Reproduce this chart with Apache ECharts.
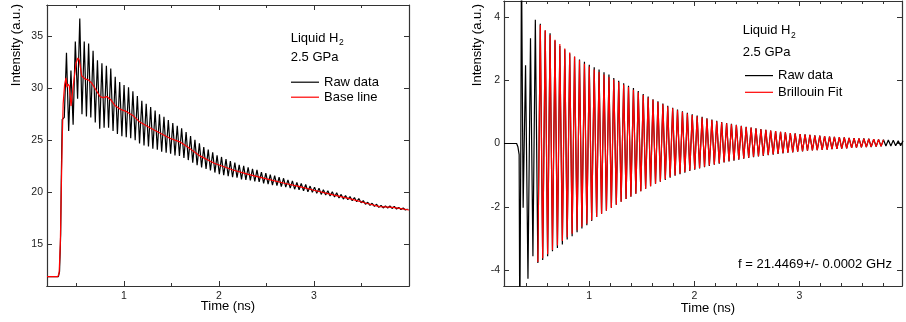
<!DOCTYPE html>
<html><head><meta charset="utf-8">
<script src="https://cdn.jsdelivr.net/npm/echarts@6/dist/echarts.min.js"></script>
<style>html,body{margin:0;padding:0;background:#fff}#c{width:906px;height:322px}</style>
</head><body><div id="c"></div>
<script>
// ---------- DATA ----------
// times (ns) of successive extrema of the Brillouin oscillation
const tExt = [0.372,0.395,0.418,0.442,0.465,0.488,0.512,0.535,0.558,0.582,
0.605,0.628,0.651,0.675,0.698,0.721,0.745,0.768,0.791,0.815,
0.838,0.861,0.885,0.908,0.931,0.955,0.978,1.001,1.024,1.048,
1.071,1.094,1.118,1.141,1.164,1.188,1.211,1.234,1.258,1.281,
1.304,1.328,1.351,1.374,1.397,1.421,1.444,1.467,1.491,1.514,
1.537,1.561,1.584,1.607,1.631,1.654,1.677,1.701,1.724,1.747,
1.770,1.794,1.817,1.840,1.864,1.887,1.910,1.934,1.957,1.980,
2.004,2.027,2.050,2.074,2.097,2.120,2.143,2.167,2.190,2.213,
2.237,2.260,2.283,2.307,2.330,2.353,2.377,2.400,2.423,2.447,
2.470,2.493,2.517,2.540,2.563,2.586,2.610,2.633,2.656,2.680,
2.703,2.726,2.750,2.773,2.796,2.820,2.843,2.866,2.890,2.913,
2.936,2.959,2.983,3.006,3.029,3.053,3.076,3.099,3.123,3.146,
3.169,3.193,3.216,3.239,3.263,3.286,3.309,3.332,3.356,3.379,
3.402,3.426,3.449,3.472,3.496,3.519,3.542,3.566,3.589,3.612,
3.636,3.659,3.682,3.706,3.729,3.752,3.776,3.799,3.822,3.845,
3.869,3.892,3.915,3.939,3.962,3.985];

// samples before the oscillation starts (flat signal and onset)
const leadT      = [0.19, 0.31, 0.322, 0.334, 0.340, 0.350, 0.356, 0.362];
const leftLeadV  = [11.9, 11.9, 12.4, 16.0, 21.0, 27.0, 27.1, 26.9];
const rightLeadV = [0, 0, -0.1, -0.35, -6, 0, 6, 3];

// Left panel: raw data at the extrema times
const leftRawV = [27.2,33.4,25.9,31.7,26.5,34.5,29.0,36.7,27.5,34.5,
27.3,34.3,27.2,33.6,26.7,32.7,26.1,32.4,26.2,32.15,
26.2,31.9,25.9,31.1,25.6,30.6,25.4,30.3,25.3,30.1,
25.2,29.7,25.0,29.25,24.7,28.8,24.5,28.5,24.4,28.2,
24.2,27.85,24.1,27.5,23.9,27.25,23.8,26.95,23.7,26.65,
23.55,26.4,23.5,26.15,23.3,25.8,23.1,25.4,22.85,25.05,
22.6,24.7,22.4,24.35,22.25,24.1,22.1,23.85,21.9,23.55,
21.75,23.4,21.65,23.2,21.55,23.0,21.45,22.85,21.4,22.65,
21.25,22.55,21.2,22.4,21.15,22.25,21.05,22.15,21.0,21.95,
20.85,21.85,20.8,21.7,20.7,21.6,20.65,21.45,20.55,21.35,
20.5,21.2,20.4,21.1,20.3,20.95,20.25,20.85,20.15,20.75,
20.05,20.6,20.0,20.5,19.9,20.4,19.8,20.25,19.75,20.15,
19.65,20.05,19.55,19.95,19.45,19.8,19.35,19.7,19.3,19.6,
19.2,19.5,19.1,19.4,19.0,19.2,18.85,19.05,18.75,18.95,
18.65,18.85,18.55,18.75,18.5,18.7,18.5,18.7,18.45,18.65,
18.4,18.55,18.35,18.5,18.3,18.4];

// Left panel: base line
const baseT = [0.19,0.305,0.318,0.33,0.34,0.35,0.36,0.375,0.39,0.40,0.41,0.425,0.443,0.47,0.495,0.515,0.53,0.555,0.59,0.625,0.66,0.695,0.748,0.782,0.82,0.86,0.905,0.958,1.028,1.098,1.168,1.273,1.378,1.483,1.588,1.694,1.80,1.95,2.148,2.3,2.5,2.7,2.85,3.0,3.2,3.375,3.55,3.69,3.83,3.9,4.0];
const baseV = [11.9,11.9,12.3,15,20,25,28.5,30.3,31.0,30.1,30.4,30.2,28.3,30.5,32.4,32.9,32.7,31.2,30.9,30.8,30.5,30.0,29.2,29.1,29.2,28.9,28.35,28.0,27.75,27.35,26.75,26.2,25.7,25.2,24.85,24.2,23.5,22.8,22.15,21.75,21.3,20.85,20.55,20.2,19.75,19.4,18.95,18.62,18.55,18.45,18.3];

// Right panel: raw data (base line removed) at the extrema times
const rightRawV = [-2.03,2.47,-4.27,3.32,-3.56,3.91,-3.77,3.78,-3.68,3.57,
-3.56,3.48,-3.40,3.25,-3.30,3.08,-3.19,2.97,-3.03,2.84,
-2.93,2.74,-2.80,2.65,-2.68,2.58,-2.58,2.49,-2.45,2.41,
-2.32,2.34,-2.22,2.25,-2.12,2.18,-2.03,2.07,-1.93,1.98,
-1.84,1.90,-1.75,1.82,-1.68,1.75,-1.59,1.66,-1.51,1.56,
-1.43,1.48,-1.35,1.40,-1.27,1.33,-1.21,1.26,-1.15,1.19,
-1.08,1.13,-1.02,1.07,-0.97,1.02,-0.92,0.97,-0.87,0.92,
-0.83,0.88,-0.79,0.84,-0.75,0.80,-0.71,0.76,-0.67,0.72,
-0.64,0.68,-0.60,0.65,-0.57,0.62,-0.54,0.59,-0.51,0.56,
-0.48,0.53,-0.46,0.50,-0.43,0.48,-0.41,0.46,-0.39,0.43,
-0.37,0.41,-0.35,0.39,-0.33,0.37,-0.31,0.35,-0.29,0.33,
-0.28,0.32,-0.26,0.30,-0.25,0.29,-0.23,0.27,-0.22,0.26,
-0.21,0.25,-0.20,0.23,-0.19,0.22,-0.18,0.21,-0.17,0.20,
-0.16,0.19,-0.15,0.18,-0.14,0.17,-0.13,0.16,-0.12,0.16,
-0.11,0.15,-0.11,0.14,-0.10,0.13,-0.09,0.12,-0.08,0.11,
-0.08,0.10,-0.07,0.09,-0.07,0.09];

// Right panel: Brillouin fit, starting at extremum index fitStart
const fitStart = 6;
const fitV = [-3.74,3.74,-3.62,3.58,-3.50,3.43,-3.36,3.28,-3.22,3.14,
-3.08,3.00,-2.96,2.87,-2.85,2.75,-2.74,2.63,-2.63,2.52,
-2.53,2.43,-2.42,2.34,-2.32,2.26,-2.22,2.18,-2.12,2.10,
-2.03,2.02,-1.93,1.94,-1.84,1.86,-1.75,1.78,-1.67,1.70,
-1.59,1.62,-1.51,1.53,-1.43,1.45,-1.35,1.38,-1.27,1.31,
-1.20,1.24,-1.13,1.17,-1.06,1.11,-1.00,1.05,-0.95,1.00,
-0.90,0.95,-0.85,0.90,-0.81,0.86,-0.77,0.82,-0.73,0.78,
-0.69,0.74,-0.66,0.70,-0.62,0.67,-0.59,0.64,-0.56,0.61,
-0.53,0.58,-0.50,0.55,-0.47,0.52,-0.45,0.50,-0.42,0.47,
-0.40,0.45,-0.38,0.43,-0.36,0.41,-0.34,0.39,-0.32,0.37,
-0.30,0.35,-0.29,0.33,-0.27,0.31,-0.26,0.30,-0.24,0.28,
-0.23,0.27,-0.22,0.25,-0.21,0.24,-0.20,0.23,-0.19,0.22,
-0.18,0.21,-0.17,0.20,-0.16,0.19,-0.15,0.18,-0.14,0.17,
-0.13,0.16,-0.12,0.15,-0.11,0.145,-0.105,0.14,-0.10,0.13,
-0.09,0.12];

// tick values
const leftXTicks  = [1, 2, 3];
const leftXMinor  = [0.5, 1.5, 2.5, 3.5];
const leftYTicks  = [15, 20, 25, 30, 35];
const rightXTicks = [1, 2, 3];
const rightXMinor = [0.4, 0.6, 0.8, 1.2, 1.4, 1.6, 1.8, 2.2, 2.4, 2.6, 2.8, 3.2, 3.4, 3.6, 3.8];
const rightYTicks = [-4, -2, 0, 2, 4];

// ---------- CHART ----------
const FONT = '"Liberation Sans", Arial, sans-serif';
const AX = '#333';
function pairs(xs, ys) { return ys.map((v, i) => [xs[i], v]); }
const leftRaw  = pairs(leadT, leftLeadV).concat(pairs(tExt, leftRawV));
const baseLine = pairs(baseT, baseV);
const rightRaw = pairs(leadT, rightLeadV).concat(pairs(tExt, rightRawV));
const fit      = pairs(tExt.slice(fitStart), fitV);

function xAx(grid, pos, min, max, ticks, len, labels) {
  return {
    type: 'value', gridIndex: grid, position: pos, min: min, max: max,
    axisLine: { show: true, onZero: false, lineStyle: { color: AX, width: 1.2 } },
    axisTick: { show: true, inside: true, length: len, customValues: ticks, lineStyle: { color: AX, width: 1 } },
    axisLabel: labels ? { show: true, customValues: ticks, margin: 5, fontSize: 10.5, color: '#222', fontFamily: FONT } : { show: false },
    splitLine: { show: false }
  };
}
function yAx(grid, pos, min, max, ticks, labels) {
  return {
    type: 'value', gridIndex: grid, position: pos, min: min, max: max,
    axisLine: { show: true, onZero: false, lineStyle: { color: AX, width: 1.2 } },
    axisTick: { show: true, inside: true, length: 5, customValues: ticks, lineStyle: { color: AX, width: 1 } },
    axisLabel: labels ? { show: true, customValues: ticks, margin: 4, fontSize: 10.5, color: '#222', fontFamily: FONT } : { show: false },
    splitLine: { show: false }
  };
}

const xAxis = [
  xAx(0, 'bottom', 0.19, 4.0, leftXTicks, 5, true),
  xAx(0, 'bottom', 0.19, 4.0, leftXMinor, 3, false),
  xAx(0, 'top', 0.19, 4.0, leftXTicks, 5, false),
  xAx(0, 'top', 0.19, 4.0, leftXMinor, 3, false),
  xAx(1, 'bottom', 0.19, 3.975, rightXTicks, 5, true),
  xAx(1, 'bottom', 0.19, 3.975, rightXMinor, 3, false),
  xAx(1, 'top', 0.19, 3.975, rightXTicks, 5, false),
  xAx(1, 'top', 0.19, 3.975, rightXMinor, 3, false)
];
const yAxis = [
  yAx(0, 'left', 11, 38, leftYTicks, true),
  yAx(0, 'right', 11, 38, leftYTicks, false),
  yAx(1, 'left', -4.5, 4.5, rightYTicks, true),
  yAx(1, 'right', -4.5, 4.5, rightYTicks, false)
];

function txt(x, y, s, size, align, vAlign, rot) {
  return {
    type: 'text', x: x, y: y, rotation: rot || 0, silent: true,
    style: { text: s, x: 0, y: 0, font: size + 'px ' + FONT, fill: '#000',
      align: align, textAlign: align, verticalAlign: vAlign, textVerticalAlign: vAlign }
  };
}
// width of "Liquid H" so the subscript sits right after it
const mctx = document.createElement('canvas').getContext('2d');
mctx.font = '13px ' + FONT;
const wLH = mctx.measureText('Liquid H').width;

// legend icon: thin horizontal stroke centred in a 28x14 box
const LEG_ICON = 'path://M0,0L0,0M28,14L28,14M0,6.4L28,6.4L28,7.6L0,7.6Z';

const option = {
  animation: false,
  backgroundColor: '#fff',
  grid: [
    { left: 47, top: 5, width: 362, height: 281 },
    { left: 504, top: 1, width: 398, height: 285 }
  ],
  xAxis: xAxis,
  yAxis: yAxis,
  legend: [
    { data: ['Raw data', 'Base line'], left: 291, top: 75.2, orient: 'vertical', padding: 0,
      icon: LEG_ICON, itemWidth: 28, itemHeight: 14, itemGap: 1, selectedMode: false,
      textStyle: { fontSize: 13, color: '#000', fontFamily: FONT } },
    { data: ['Raw data', 'Brillouin Fit'], left: 745, top: 68.6, orient: 'vertical', padding: 0,
      icon: LEG_ICON, itemWidth: 28, itemHeight: 14, itemGap: 2.7, selectedMode: false,
      textStyle: { fontSize: 13, color: '#000', fontFamily: FONT } }
  ],
  series: [
    { name: 'Raw data', type: 'line', xAxisIndex: 0, yAxisIndex: 0, data: leftRaw,
      symbol: 'none', lineStyle: { color: '#000', width: 1.2 }, itemStyle: { color: '#000' } },
    { name: 'Base line', type: 'line', xAxisIndex: 0, yAxisIndex: 0, data: baseLine,
      symbol: 'none', lineStyle: { color: '#ff0000', width: 1.2 }, itemStyle: { color: '#ff0000' } },
    { name: 'Raw data', type: 'line', xAxisIndex: 4, yAxisIndex: 2, data: rightRaw,
      symbol: 'none', lineStyle: { color: '#000', width: 1.2 }, itemStyle: { color: '#000' } },
    { name: 'Brillouin Fit', type: 'line', xAxisIndex: 4, yAxisIndex: 2, data: fit,
      symbol: 'none', lineStyle: { color: '#ff0000', width: 1.2 }, itemStyle: { color: '#ff0000' } }
  ],
  graphic: [
    txt(16, 45, 'Intensity (a.u.)', 13, 'center', 'middle', Math.PI / 2),
    txt(477, 45, 'Intensity (a.u.)', 13, 'center', 'middle', Math.PI / 2),
    txt(228, 306, 'Time (ns)', 13, 'center', 'middle'),
    txt(708, 308, 'Time (ns)', 13, 'center', 'middle'),
    txt(290.7, 31.7, 'Liquid H', 13, 'left', 'top'),
    txt(290.7 + wLH + 0.5, 38.3, '2', 8.5, 'left', 'top'),
    txt(290.7, 50.7, '2.5 GPa', 13, 'left', 'top'),
    txt(742.7, 24, 'Liquid H', 13, 'left', 'top'),
    txt(742.7 + wLH + 0.5, 30.7, '2', 8.5, 'left', 'top'),
    txt(742.7, 45.7, '2.5 GPa', 13, 'left', 'top'),
    txt(738, 258, 'f = 21.4469+/- 0.0002 GHz', 13, 'left', 'top')
  ]
};
const chart = echarts.init(document.getElementById('c'), null, { renderer: 'canvas' });
chart.setOption(option);
</script>
</body></html>
